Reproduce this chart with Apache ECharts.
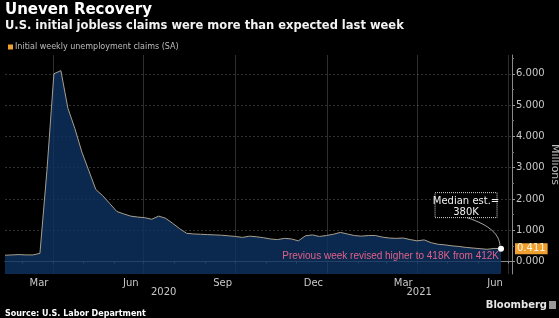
<!DOCTYPE html>
<html>
<head>
<meta charset="utf-8">
<script src="https://cdn.jsdelivr.net/npm/echarts@6/dist/echarts.min.js"></script>
<style>
html,body{margin:0;padding:0;background:#000;}
#main{width:559px;height:318px;}
</style>
</head>
<body>
<div id="main"></div>
<script>
// weekly data, plotted on report dates
var weeks = [
  '2020-02-13','2020-02-20','2020-02-27','2020-03-05','2020-03-12','2020-03-19','2020-03-26','2020-04-02',
  '2020-04-09','2020-04-16','2020-04-23','2020-04-30','2020-05-07','2020-05-14','2020-05-21','2020-05-28',
  '2020-06-04','2020-06-11','2020-06-18','2020-06-25','2020-07-02','2020-07-09','2020-07-16','2020-07-23',
  '2020-07-30','2020-08-06','2020-08-13','2020-08-20','2020-08-27','2020-09-03','2020-09-10','2020-09-17',
  '2020-09-24','2020-10-01','2020-10-08','2020-10-15','2020-10-22','2020-10-29','2020-11-05','2020-11-12',
  '2020-11-19','2020-11-26','2020-12-03','2020-12-10','2020-12-17','2020-12-24','2020-12-31','2021-01-07',
  '2021-01-14','2021-01-21','2021-01-28','2021-02-04','2021-02-11','2021-02-18','2021-02-25','2021-03-04',
  '2021-03-11','2021-03-18','2021-03-25','2021-04-01','2021-04-08','2021-04-15','2021-04-22','2021-04-29',
  '2021-05-06','2021-05-13','2021-05-20','2021-05-27','2021-06-03','2021-06-10','2021-06-17','2021-06-24'
];
var claims = [
  0.20, 0.21, 0.22, 0.21, 0.21, 0.26, 2.90, 6.00,
  6.10, 4.90, 4.25, 3.50, 2.90, 2.30, 2.10, 1.85,
  1.60, 1.52, 1.45, 1.42, 1.40, 1.35, 1.45, 1.38,
  1.22, 1.05, 0.90, 0.88, 0.87, 0.86, 0.85, 0.84,
  0.82, 0.80, 0.77, 0.81, 0.79, 0.76, 0.72, 0.70,
  0.74, 0.72, 0.66, 0.82, 0.85, 0.80, 0.83, 0.87,
  0.93, 0.88, 0.83, 0.81, 0.83, 0.83, 0.78, 0.75,
  0.74, 0.75, 0.70, 0.66, 0.69, 0.60, 0.55, 0.53,
  0.50, 0.48, 0.45, 0.43, 0.41, 0.39, 0.418, 0.411
];
var monthTicks = [
  '2020-03-01','2020-04-01','2020-05-01','2020-06-01','2020-07-01','2020-08-01','2020-09-01','2020-10-01',
  '2020-11-01','2020-12-01','2021-01-01','2021-02-01','2021-03-01','2021-04-01','2021-05-01','2021-06-01','2021-07-01'
];
var quarterLines = ['2020-04-01','2020-07-01','2020-10-01','2021-01-01','2021-04-01','2021-07-01'];
var monthLabels = ['Mar','Jun','Sep','Dec','Mar','Jun'];
var monthLabelDates = ['2020-03-18','2020-06-18','2020-09-18','2020-12-18','2021-03-18','2021-06-18'];
var yearLabels = ['2020','2021'];
var yearLabelDates = ['2020-07-21','2021-04-03'];
var yearBreak = ['2021-01-01'];
var yTicks = [0, 1, 2, 3, 4, 5, 6];
var yMinorTicks = [0.5, 1.5, 2.5, 3.5, 4.5, 5.5, 6.5];
var medianEst = '380K';
var revisedNote = 'Previous week revised higher to 418K from 412K';

function ts(s) { return echarts.number.parseDate(s).getTime(); }
var xMin = ts('2020-02-13'), xMax = ts('2021-07-05');
var last = claims.length - 1;

var myChart = echarts.init(document.getElementById('main'));

// x axes are value axes over timestamps so that custom tick / label positions can be used
function dateAxis(extra) {
  var base = {
    type: 'value', gridIndex: 0, min: xMin, max: xMax, position: 'bottom',
    axisLine: { show: false }, axisTick: { show: false }, axisLabel: { show: false },
    splitLine: { show: false }
  };
  for (var k in extra) base[k] = extra[k];
  return base;
}
function lookup(dates, labels) {
  var keys = dates.map(ts);
  return function (v) {
    var i = keys.indexOf(v);
    return i >= 0 ? labels[i] : '';
  };
}

var option = {
  backgroundColor: '#000',
  animation: false,
  title: [
    { text: 'Uneven Recovery', left: 5, top: 3, padding: 0,
      textStyle: { color: '#fff', fontSize: 15, fontWeight: 'bold', fontFamily: 'DejaVu Sans' } },
    { text: 'U.S. initial jobless claims were more than expected last week', left: 5, top: 20, padding: 0,
      textStyle: { color: '#f2f2f2', fontSize: 11.5, fontWeight: 'bold', fontFamily: 'DejaVu Sans' } },
    { text: 'Source: U.S. Labor Department', left: 5, top: 310, padding: 0,
      textStyle: { color: '#fff', fontSize: 8, fontWeight: 'bold', fontFamily: 'DejaVu Sans' } },
    { text: 'Bloomberg', right: 12, top: 300, padding: 0,
      textStyle: { color: '#e6e6e6', fontSize: 10, fontWeight: 'bold', fontFamily: 'DejaVu Sans' } }
  ],
  legend: {
    left: 8, top: 43, padding: 0, icon: 'rect', itemWidth: 5, itemHeight: 5, itemGap: 4,
    itemStyle: { color: '#f0a030' },
    textStyle: { color: '#bdbdbd', fontSize: 8, fontFamily: 'DejaVu Sans', padding: [0, 0, 0, -3] },
    data: ['Initial weekly unemployment claims (SA)']
  },
  grid: { left: 5, right: 47, top: 55, bottom: 44, outerBoundsMode: 'none', containLabel: false },
  xAxis: [
    // data axis: quarter grid lines and month labels
    dateAxis({
      axisLine: { show: true, lineStyle: { color: '#8a8a8a', width: 1 } },
      axisTick: { show: false, customValues: quarterLines.map(ts) },
      splitLine: { show: true, lineStyle: { color: 'rgba(130,130,130,0.35)', width: 1 } },
      axisLabel: {
        show: true, customValues: monthLabelDates.map(ts), margin: 4,
        color: '#c8c8c8', fontSize: 10, fontFamily: 'DejaVu Sans',
        formatter: lookup(monthLabelDates, monthLabels)
      }
    }),
    // month tick marks
    dateAxis({
      axisTick: { show: true, customValues: monthTicks.map(ts), length: 2, lineStyle: { color: '#9a9a9a' } }
    }),
    // year labels
    dateAxis({
      offset: 12,
      axisTick: { show: true, customValues: yearBreak.map(ts), length: 11, lineStyle: { color: '#555' } },
      axisLabel: {
        show: true, customValues: yearLabelDates.map(ts), margin: 1,
        color: '#c8c8c8', fontSize: 10, fontFamily: 'DejaVu Sans',
        formatter: lookup(yearLabelDates, yearLabels)
      }
    })
  ],
  yAxis: [
    {
      type: 'value', position: 'right', min: -0.4, max: 6.6,
      name: 'Millions', nameLocation: 'middle', nameRotate: -90, nameGap: 37, nameMoveOverlap: false,
      nameTextStyle: { color: '#bdbdbd', fontSize: 11, fontFamily: 'DejaVu Sans' },
      axisLine: { show: true, lineStyle: { color: '#8a8a8a' } },
      axisTick: { show: true, customValues: yTicks, length: 3, lineStyle: { color: '#9a9a9a' } },
      axisLabel: {
        customValues: yTicks, margin: 4, color: '#c8c8c8', fontSize: 10, fontFamily: 'DejaVu Sans',
        formatter: function (v) { return v.toFixed(3); }
      },
      splitLine: { show: true, lineStyle: { color: 'rgba(110,110,110,0.45)', type: [2, 2] } }
    },
    {
      type: 'value', position: 'right', min: -0.4, max: 6.6,
      axisLine: { show: false }, axisLabel: { show: false }, splitLine: { show: false },
      axisTick: { show: true, customValues: yMinorTicks, length: 2, lineStyle: { color: '#777' } }
    },
    {
      type: 'value', position: 'right', min: -0.4, max: 6.6,
      axisLine: { show: false }, axisTick: { show: false }, splitLine: { show: false },
      axisLabel: {
        customValues: [claims[last]], margin: 3, color: '#fff6e0', fontSize: 10, fontFamily: 'DejaVu Sans',
        backgroundColor: '#f0a030', padding: [1, 2, 0, 2],
        formatter: function (v) { return v.toFixed(3); }
      }
    }
  ],
  series: [{
    name: 'Initial weekly unemployment claims (SA)',
    type: 'line',
    xAxisIndex: 0, yAxisIndex: 0,
    showSymbol: false,
    data: weeks.map(function (d, i) { return [ts(d), claims[i]]; }),
    itemStyle: { color: '#f0a030' },
    lineStyle: { color: '#a89e8c', width: 1 },
    areaStyle: { color: '#0d3260', opacity: 0.82, origin: 'start' },
    markPoint: {
      symbol: 'circle', symbolSize: 6, silent: true,
      itemStyle: { color: '#fff' }, label: { show: false },
      data: [{ coord: [ts(weeks[last]), claims[last]] }]
    }
  }]
};
myChart.setOption(option);

// annotations anchored to the latest point
var p = myChart.convertToPixel({ xAxisIndex: 0, yAxisIndex: 0 }, [ts(weeks[last]), claims[last]]);
var bx = p[0] - 66, by = p[1] - 56;
myChart.setOption({
  graphic: [
    { type: 'rect', shape: { x: bx, y: by, width: 62, height: 25 },
      style: { fill: '#000', stroke: '#d8d8d8', lineWidth: 1, lineDash: [1, 1] }, z: 10 },
    { type: 'text', x: bx + 31, y: by + 3, z: 11,
      style: { text: 'Median est.=\n' + medianEst, fill: '#f0f0f0', fontSize: 10, fontFamily: 'DejaVu Sans',
               align: 'center', lineHeight: 11 } },
    { type: 'bezierCurve', z: 10,
      shape: { x1: bx + 32, y1: by + 25, cpx1: p[0] - 10, cpy1: by + 33, cpx2: p[0] - 2, cpy2: p[1] - 14,
               x2: p[0] - 1, y2: p[1] - 3 },
      style: { stroke: '#cfcfcf', lineWidth: 0.8, fill: null } },
    { type: 'text', x: p[0] - 2, y: p[1] + 3, z: 11,
      style: { text: revisedNote, fill: '#e0608a', fontSize: 10, fontFamily: 'Liberation Sans', align: 'right' } },
    { type: 'rect', right: 3, top: 301, shape: { width: 7, height: 8 },
      style: { fill: '#9a9a9a' } }
  ]
});
</script>
</body>
</html>
